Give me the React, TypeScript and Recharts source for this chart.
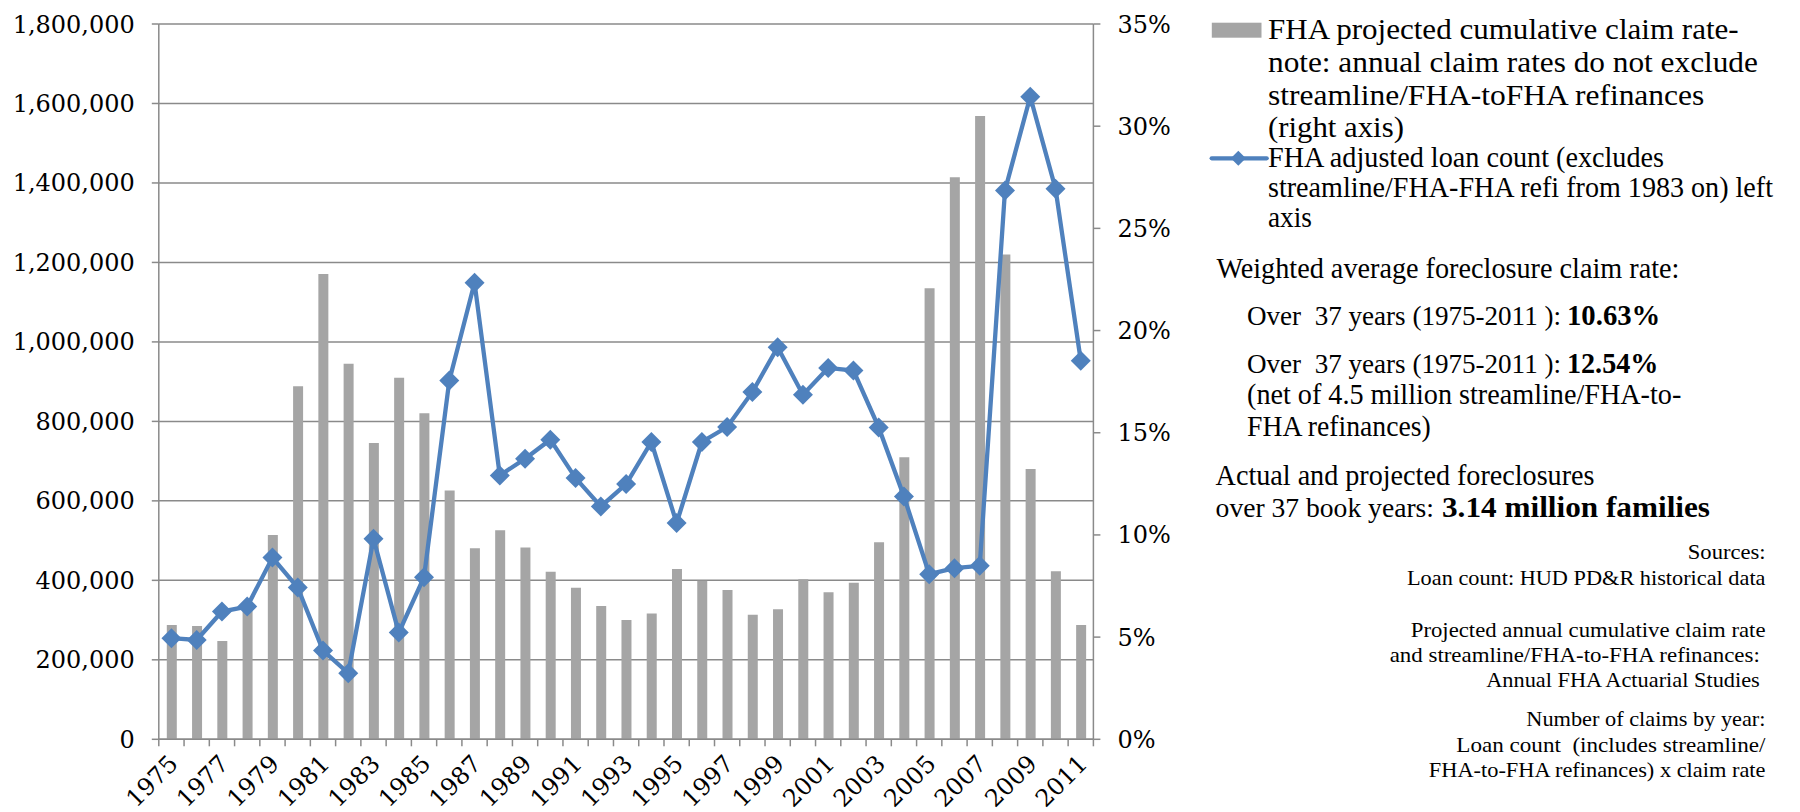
import React from 'react';
import { ComposedChart, Bar, Line, XAxis, YAxis, CartesianGrid } from 'recharts';

// ---------- data ----------
const years = [
  '1975','1976','1977','1978','1979','1980','1981','1982','1983','1984',
  '1985','1986','1987','1988','1989','1990','1991','1992','1993','1994',
  '1995','1996','1997','1998','1999','2000','2001','2002','2003','2004',
  '2005','2006','2007','2008','2009','2010','2011',
];
// FHA projected cumulative claim rate (%), right axis
const claimRate = [
  5.59, 5.54, 4.81, 6.45, 10.0, 17.27, 22.77, 18.38, 14.5, 17.69,
  15.95, 12.18, 9.35, 10.23, 9.38, 8.2, 7.42, 6.52, 5.84, 6.16,
  8.33, 7.76, 7.31, 6.1, 6.36, 7.83, 7.19, 7.66, 9.64, 13.8,
  22.07, 27.5, 30.5, 23.72, 13.23, 8.22, 5.59,
];
// FHA adjusted loan count, left axis
const loanCount = [
  254400, 250100, 321400, 334000, 457500, 381900, 223200, 166300, 504600, 268600,
  408100, 902600, 1148700, 664000, 706100, 754000, 657400, 586000, 642300, 748100,
  544100, 748100, 785900, 874100, 986500, 867300, 934600, 927800, 784900, 611100,
  415600, 430700, 436500, 1381200, 1617200, 1385400, 952900,
];
const leftTicks = [0, 200000, 400000, 600000, 800000, 1000000, 1200000, 1400000, 1600000, 1800000];
const rightTicks = [0, 5, 10, 15, 20, 25, 30, 35];

const barName = 'FHA projected cumulative claim rate';
const lineName = 'FHA adjusted loan count';

const legendBarText = [
  'FHA projected cumulative claim rate-',
  'note: annual claim rates do not exclude',
  'streamline/FHA-toFHA refinances',
  '(right axis)',
];
const legendLineText = [
  'FHA adjusted loan count (excludes',
  'streamline/FHA-FHA refi from 1983 on) left',
  'axis',
];
const weightedTitle = 'Weighted average foreclosure claim rate:';
const overPrefix = 'Over  37 years (1975-2011 ):';
const weightedValues = ['10.63%', '12.54%'];
const netNote = ['(net of 4.5 million streamline/FHA-to-', 'FHA refinances)'];
const actualLine1 = 'Actual and projected foreclosures';
const actualPrefix = 'over 37 book years:';
const actualValue = '3.14 million families';
const sourcesText = [
  'Sources:',
  'Loan count: HUD PD&R historical data',
  'Projected annual cumulative claim rate',
  'and streamline/FHA-to-FHA refinances:',
  'Annual FHA Actuarial Studies',
  'Number of claims by year:',
  'Loan count  (includes streamline/',
  'FHA-to-FHA refinances) x claim rate',
];

const data = years.map((y, i) => ({ year: y, rate: claimRate[i], count: loanCount[i] }));

// ---------- layout / style ----------
const W = 1800;
const H = 812;
const LEFT_W = 158.8;
const RIGHT_W = 60;
const X_H = 60;
const MARGIN = { top: 24, left: 0, right: 646.6, bottom: 12.7 };
const PLOT_W = W - LEFT_W - RIGHT_W - MARGIN.left - MARGIN.right;
const BAND = PLOT_W / years.length;
const AXIS = '#8a8a8a';
const BAR = '#a5a5a5';
const LINE = '#4f81bd';
const AX_FONT = "'DejaVu Serif', serif";
const TXT_FONT = "'Liberation Serif', 'Times New Roman', serif";

const Diamond = (props: any) => {
  const { cx, cy, index } = props;
  if (cx == null || cy == null) return <g key={`d${index}`} />;
  const r = 10;
  return (
    <polygon
      key={`d${index}`}
      points={`${cx},${cy - r} ${cx + r},${cy} ${cx},${cy + r} ${cx - r},${cy}`}
      fill={LINE}
    />
  );
};

const XTick = (props: any) => {
  const { x, y, payload, index } = props;
  const lx = x - BAND / 2;
  const ax = x + 8;
  const ay = y + 26;
  return (
    <g>
      <line x1={lx} y1={y} x2={lx} y2={y + 7} stroke={AXIS} strokeWidth={1.5} />
      {index === years.length - 1 && (
        <line x1={x + BAND / 2} y1={y} x2={x + BAND / 2} y2={y + 7} stroke={AXIS} strokeWidth={1.5} />
      )}
      {index % 2 === 0 && (
        <text
          x={ax}
          y={ay}
          textAnchor="end"
          transform={`rotate(-45 ${ax} ${ay})`}
          fontSize={24}
          fill="#000"
          style={{ fontFamily: AX_FONT }}
        >
          {payload.value}
        </text>
      )}
    </g>
  );
};

// fitted text line: x start, baseline y, x end
const FitText = ({ x, y, x2, size, bold, children }: any) => (
  <text
    x={x}
    y={y}
    textLength={x2 - x}
    lengthAdjust="spacingAndGlyphs"
    fontSize={size}
    fontWeight={bold ? 'bold' : 'normal'}
    fill="#000"
    style={{ whiteSpace: 'pre', fontFamily: TXT_FONT }}
  >
    {children}
  </text>
);

// one line made of a regular part followed by a bold part
const MixedText = ({ x, y, x2, bx, bx2, size, bsize, normal, bold }: any) => (
  <text y={y} fill="#000" style={{ whiteSpace: 'pre', fontFamily: TXT_FONT }}>
    <tspan x={x} fontSize={size} textLength={x2 - x} lengthAdjust="spacingAndGlyphs">{normal}</tspan>
    <tspan x={bx} fontSize={bsize} textLength={bx2 - bx} lengthAdjust="spacingAndGlyphs" fontWeight="bold">{bold}</tspan>
  </text>
);

const legendBarPos = [
  [1268, 39, 1738.7],
  [1268, 71.7, 1757.9],
  [1268, 105, 1704.3],
  [1268, 136.7, 1403.9],
];
const legendLinePos = [
  [1268, 166.7, 1664],
  [1268, 196.7, 1773],
  [1268, 226.7, 1312],
];
const sourcesPos = [
  [1687.8, 559.3, 1765.5],
  [1407, 585, 1765.5],
  [1410.8, 636.7, 1765.5],
  [1389.7, 661.7, 1759.8],
  [1486.2, 686.7, 1759.8],
  [1526.3, 726, 1765.5],
  [1456.3, 751.7, 1765.5],
  [1428.8, 776.7, 1765.5],
];

const BIG = 29;
const MID = 27;
const SMALL = 22;

const Annotations = () => (
  <svg width={W} height={H} style={{ position: 'absolute', left: 0, top: 0, pointerEvents: 'none' }}>
    {/* legend */}
    <rect x={1211.8} y={22.7} width={49.7} height={15} fill={BAR} />
    {legendBarText.map((t, i) => (
      <FitText key={`lb${i}`} x={legendBarPos[i][0]} y={legendBarPos[i][1]} x2={legendBarPos[i][2]} size={BIG}>{t}</FitText>
    ))}
    <line x1={1211.7} y1={158.3} x2={1266.7} y2={158.3} stroke={LINE} strokeWidth={4.3} strokeLinecap="round" />
    <polygon points="1238.3,150.8 1245.8,158.3 1238.3,165.8 1230.8,158.3" fill={LINE} />
    {legendLineText.map((t, i) => (
      <FitText key={`ll${i}`} x={legendLinePos[i][0]} y={legendLinePos[i][1]} x2={legendLinePos[i][2]} size={BIG}>{t}</FitText>
    ))}
    {/* weighted average */}
    <FitText x={1216.4} y={278.3} x2={1679.4} size={BIG}>{weightedTitle}</FitText>
    <MixedText x={1247} y={325} x2={1561} bx={1567} bx2={1660.3} size={MID} bsize={BIG} normal={overPrefix} bold={weightedValues[0]} />
    <MixedText x={1247} y={372.7} x2={1561} bx={1567} bx2={1658.4} size={MID} bsize={BIG} normal={overPrefix} bold={weightedValues[1]} />
    <FitText x={1247} y={404.3} x2={1681.3} size={BIG}>{netNote[0]}</FitText>
    <FitText x={1247} y={436} x2={1430.7} size={BIG}>{netNote[1]}</FitText>
    {/* actual and projected */}
    <FitText x={1215.6} y={485} x2={1594.5} size={BIG}>{actualLine1}</FitText>
    <MixedText x={1215.6} y={516.7} x2={1434} bx={1442} bx2={1710} size={MID} bsize={BIG} normal={actualPrefix} bold={actualValue} />
    {/* sources */}
    {sourcesText.map((t, i) => (
      <FitText key={`s${i}`} x={sourcesPos[i][0]} y={sourcesPos[i][1]} x2={sourcesPos[i][2]} size={SMALL}>{t}</FitText>
    ))}
  </svg>
);

export default function App() {
  const tickStyle = { fill: '#000', fontSize: 24, style: { fontFamily: AX_FONT } };
  return (
    <div style={{ position: 'absolute', left: 0, top: 0, width: W, height: H, background: '#fff' }}>
      <ComposedChart width={W} height={H} data={data} margin={MARGIN}>
        <CartesianGrid yAxisId="left" vertical={false} stroke={AXIS} strokeWidth={1.5} />
        <XAxis
          dataKey="year"
          interval={0}
          height={X_H}
          tickSize={0}
          tickMargin={0}
          tickLine={false}
          axisLine={{ stroke: AXIS, strokeWidth: 1.5 }}
          tick={<XTick />}
        />
        <YAxis
          yAxisId="left"
          orientation="left"
          width={LEFT_W}
          domain={[0, 1800000]}
          ticks={leftTicks}
          interval={0}
          tickSize={7}
          tickMargin={17}
          tickLine={{ stroke: AXIS, strokeWidth: 1.5 }}
          axisLine={{ stroke: AXIS, strokeWidth: 1.5 }}
          tick={tickStyle}
          tickFormatter={(v: number) => v.toLocaleString('en-US')}
        />
        <YAxis
          yAxisId="right"
          orientation="right"
          width={RIGHT_W}
          domain={[0, 35]}
          ticks={rightTicks}
          interval={0}
          tickSize={7}
          tickMargin={17}
          tickLine={{ stroke: AXIS, strokeWidth: 1.5 }}
          axisLine={{ stroke: AXIS, strokeWidth: 1.5 }}
          tick={tickStyle}
          tickFormatter={(v: number) => `${v}%`}
        />
        <Bar yAxisId="right" dataKey="rate" name={barName} fill={BAR} barSize={10} isAnimationActive={false} />
        <Line
          yAxisId="left"
          dataKey="count"
          name={lineName}
          stroke={LINE}
          strokeWidth={4.3}
          dot={Diamond}
          activeDot={false}
          isAnimationActive={false}
        />
      </ComposedChart>
      <Annotations />
    </div>
  );
}
